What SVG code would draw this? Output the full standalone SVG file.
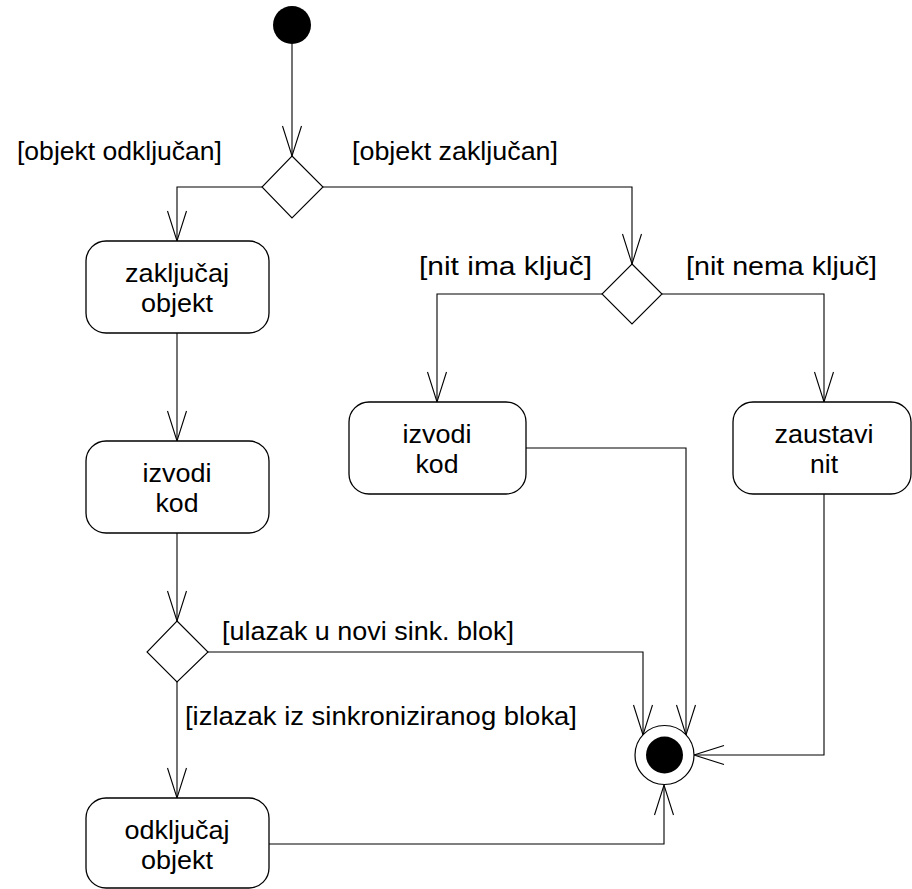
<svg xmlns="http://www.w3.org/2000/svg" width="912" height="889" viewBox="0 0 912 889">
  <style>
    .bg { fill: #ffffff; }
    .act { fill: #ffffff; stroke: #000000; stroke-width: 1.3; }
    .dec { fill: #ffffff; stroke: #000000; stroke-width: 1.1; }
    .flow { fill: none; stroke: #000000; stroke-width: 1.1; marker-end: url(#open); }
    .txt { font-family: "Liberation Sans", Arial, sans-serif; font-size: 25px; fill: #000000; }
    .mid { text-anchor: middle; }
  </style>
  <defs>
    <marker id="open" markerUnits="userSpaceOnUse" markerWidth="34" markerHeight="24" viewBox="-32 -12 34 24" refX="0" refY="0" orient="auto">
      <path d="M-30,-9.5 L0,0 L-30,9.5" fill="none" stroke="#000000" stroke-width="1.1"/>
    </marker>
  </defs>

  <rect class="bg" x="0" y="0" width="912" height="889"/>

  <!-- control flows -->
  <g id="connectors">
    <path class="flow" d="M292,44 L292,156"/>
    <path class="flow" d="M262,187 L177,187 L177,241"/>
    <path class="flow" d="M323,187 L632,187 L632,264"/>
    <path class="flow" d="M602,294 L437,294 L437,402"/>
    <path class="flow" d="M662,294 L824,294 L824,402"/>
    <path class="flow" d="M177,333 L177,441"/>
    <path class="flow" d="M177,533 L177,621"/>
    <path class="flow" d="M208,652 L643,652 L643,735"/>
    <path class="flow" d="M526,448 L686,448 L686,735"/>
    <path class="flow" d="M824,494 L824,755 L694,755"/>
    <path class="flow" d="M177,682 L177,798"/>
    <path class="flow" d="M269,844 L664,844 L664,785"/>
  </g>

  <!-- guard labels -->
  <g id="guards">
    <text class="txt" x="17" y="160" textLength="205" lengthAdjust="spacingAndGlyphs">[objekt odključan]</text>
    <text class="txt" x="352" y="160" textLength="206" lengthAdjust="spacingAndGlyphs">[objekt zaključan]</text>
    <text class="txt" x="419" y="275" textLength="173" lengthAdjust="spacingAndGlyphs">[nit ima ključ]</text>
    <text class="txt" x="686" y="275" textLength="191" lengthAdjust="spacingAndGlyphs">[nit nema ključ]</text>
    <text class="txt" x="222" y="640" textLength="292" lengthAdjust="spacingAndGlyphs">[ulazak u novi sink. blok]</text>
    <text class="txt" x="185" y="725" textLength="392" lengthAdjust="spacingAndGlyphs">[izlazak iz sinkroniziranog bloka]</text>
  </g>

  <g id="start">
    <circle cx="292" cy="25" r="19" fill="#000000"/>
  </g>

  <g id="decision1">
    <polygon class="dec" points="292,156 323,187 292,218 262,187"/>
  </g>

  <g id="decision2">
    <polygon class="dec" points="632,264 662,294 632,324 602,294"/>
  </g>

  <g id="decision3">
    <polygon class="dec" points="177,621 208,652 177,682 147,652"/>
  </g>

  <g id="lockObject">
    <rect class="act" x="86" y="241" width="183" height="92" rx="20" ry="20"/>
    <text class="txt mid" x="177" y="282" textLength="104" lengthAdjust="spacingAndGlyphs">zaključaj</text>
    <text class="txt mid" x="177" y="312" textLength="72" lengthAdjust="spacingAndGlyphs">objekt</text>
  </g>

  <g id="runCode1">
    <rect class="act" x="86" y="441" width="183" height="92" rx="20" ry="20"/>
    <text class="txt mid" x="177" y="482" textLength="69" lengthAdjust="spacingAndGlyphs">izvodi</text>
    <text class="txt mid" x="177" y="512" textLength="43" lengthAdjust="spacingAndGlyphs">kod</text>
  </g>

  <g id="runCode2">
    <rect class="act" x="349" y="402" width="177" height="92" rx="20" ry="20"/>
    <text class="txt mid" x="437" y="443" textLength="69" lengthAdjust="spacingAndGlyphs">izvodi</text>
    <text class="txt mid" x="437" y="473" textLength="43" lengthAdjust="spacingAndGlyphs">kod</text>
  </g>

  <g id="stopThread">
    <rect class="act" x="733" y="402" width="178" height="92" rx="20" ry="20"/>
    <text class="txt mid" x="824" y="443" textLength="99" lengthAdjust="spacingAndGlyphs">zaustavi</text>
    <text class="txt mid" x="824" y="473" textLength="28" lengthAdjust="spacingAndGlyphs">nit</text>
  </g>

  <g id="unlockObject">
    <rect class="act" x="86" y="798" width="183" height="90" rx="20" ry="20"/>
    <text class="txt mid" x="177" y="839" textLength="105" lengthAdjust="spacingAndGlyphs">odključaj</text>
    <text class="txt mid" x="177" y="869" textLength="72" lengthAdjust="spacingAndGlyphs">objekt</text>
  </g>

  <g id="end">
    <circle cx="664.5" cy="755" r="29.5" fill="#ffffff" stroke="#000000" stroke-width="1.2"/>
    <circle cx="664.5" cy="755" r="18.5" fill="#000000"/>
  </g>
</svg>
